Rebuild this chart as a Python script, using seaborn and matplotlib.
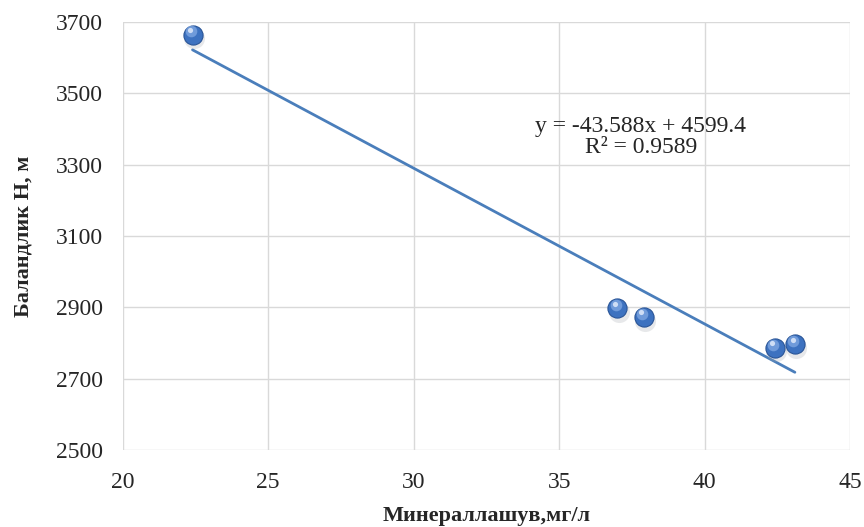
import matplotlib
matplotlib.use("Agg")
import matplotlib.pyplot as plt
import seaborn as sns
import pandas as pd

# data
mineral = [22.4, 37.0, 37.9, 42.4, 43.1]
height = [3665, 2897, 2873, 2787, 2797]
x_ticks = [20, 25, 30, 35, 40, 45]
y_ticks = [2500, 2700, 2900, 3100, 3300, 3500, 3700]
equation = "y = -43.588x + 4599.4\nR² = 0.9589"

df = pd.DataFrame({"x": mineral, "y": height})

sns.set_style("white")
plt.rcParams["font.family"] = ["Liberation Serif", "DejaVu Serif"]

fig = plt.figure(figsize=(8.64, 5.27), dpi=100)
ax = fig.add_axes([0.142, 0.146, 0.842, 0.812])

line_col = "#4a7ebb"

# trendline
sns.regplot(data=df, x="x", y="y", ax=ax, ci=None, scatter=False,
            line_kws={"color": line_col, "lw": 2.0, "zorder": 2})

# sphere-like markers: soft shadow, body, highlight
ax.scatter(df["x"] + 0.05, df["y"] - 10, s=230, color="#a0a6ad", alpha=0.25,
           linewidths=0, zorder=3)
sns.scatterplot(data=df, x="x", y="y", ax=ax, s=190, color="#3d72c0",
                edgecolor="#2a5597", linewidth=0.8, zorder=4, legend=False)
ax.scatter(df["x"] - 0.06, df["y"] + 9, s=70, color="#86ade6", alpha=0.7,
           linewidths=0, zorder=5)
ax.scatter(df["x"] - 0.08, df["y"] + 13, s=14, color="#e8f0fc", alpha=0.8,
           linewidths=0, zorder=6)

ax.text(37.8, 3378, equation, ha="center", va="center", fontsize=17,
        multialignment="center", linespacing=1.05)

ax.set_xlim(20, 45)
ax.set_ylim(2500, 3700)
ax.set_xticks(x_ticks)
ax.set_yticks(y_ticks)
ax.grid(True, color="#d9d9d9", lw=1.0)
ax.set_axisbelow(True)
for s in ax.spines.values():
    s.set_visible(False)
ax.tick_params(labelsize=17, length=0)
ax.tick_params(axis="x", pad=16)
ax.tick_params(axis="y", pad=14)

ax.set_xlabel("Минераллашув,мг/л", fontsize=16, fontweight="bold", labelpad=9)
ax.set_ylabel("Баландлик H, м", fontsize=16, fontweight="bold", labelpad=16)

fig.savefig("out.png", dpi=100)
